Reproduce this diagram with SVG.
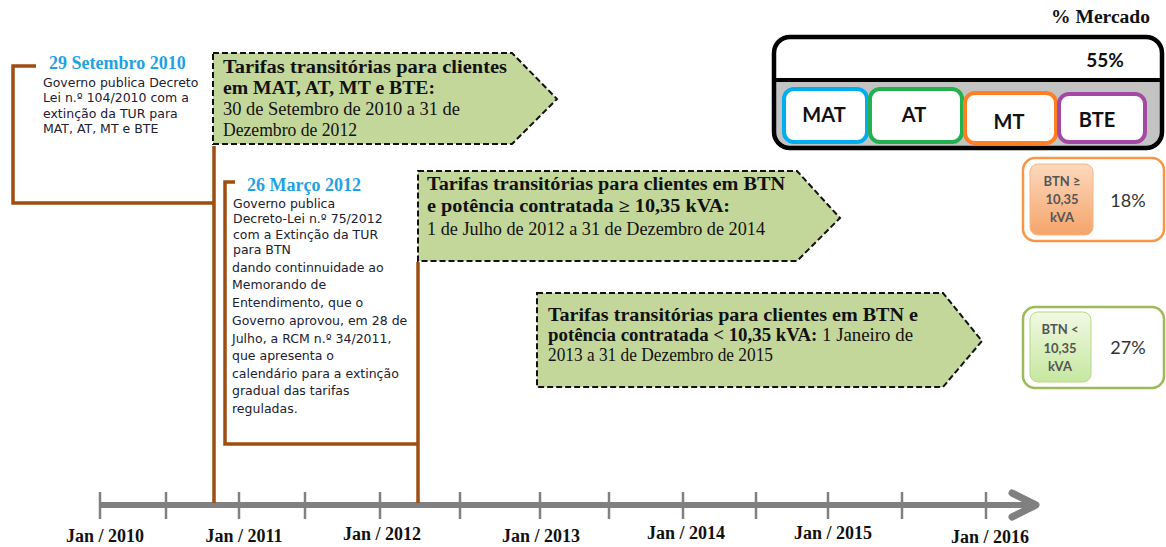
<svg xmlns="http://www.w3.org/2000/svg" width="1166" height="547" viewBox="0 0 1166 547">
<defs>
<linearGradient id="gOr" x1="0" y1="0" x2="0" y2="1"><stop offset="0" stop-color="#FCD9BD"/><stop offset="1" stop-color="#F5A46A"/></linearGradient>
<linearGradient id="gGr" x1="0" y1="0" x2="0" y2="1"><stop offset="0" stop-color="#F1F9E3"/><stop offset="1" stop-color="#C6E79F"/></linearGradient>
<style>
.brown{fill:none;stroke:#9E4E12;stroke-width:3.5}
.date{font-family:"Liberation Serif","Times New Roman",serif;font-weight:bold;font-size:18px;fill:#1FA2E2}
.body{font-family:"DejaVu Sans",Verdana,sans-serif;font-size:12.5px;fill:#202030}
.arrowbox{fill:#C4D79B;stroke:#111;stroke-width:2;stroke-dasharray:6,3}
.tb{font-family:"Liberation Serif","Times New Roman",serif;font-weight:bold;font-size:18px;fill:#111}
.tr{font-family:"Liberation Serif","Times New Roman",serif;font-size:18px;fill:#111}
.trs{font-weight:normal}
.axis{stroke:#808080;fill:none}
.jan{font-family:"Liberation Serif","Times New Roman",serif;font-weight:bold;font-size:18px;fill:#111;text-anchor:middle}
.cal{font-family:Lato,"Liberation Sans",sans-serif;font-weight:bold;fill:#111;text-anchor:middle}
.inner{fill:#fff;stroke-width:4}
.small{font-family:Lato,"Liberation Sans",sans-serif;font-weight:bold;font-size:13px;fill:#555;text-anchor:middle}
.pct{font-family:Lato,"Liberation Sans",sans-serif;font-size:18px;fill:#333;text-anchor:middle}
</style>
</defs>
<rect width="1166" height="547" fill="#fff"/>

<g id="timeline-axis">
<line class="axis" x1="100" y1="505" x2="1033" y2="505" stroke-width="6"/>
<g class="axis" stroke-width="2.5">
<line x1="100" y1="492" x2="100" y2="519"/>
<line x1="166" y1="492" x2="166" y2="519"/>
<line x1="239" y1="492" x2="239" y2="519"/>
<line x1="305" y1="492" x2="305" y2="519"/>
<line x1="380" y1="492" x2="380" y2="519"/>
<line x1="460" y1="492" x2="460" y2="519"/>
<line x1="540" y1="492" x2="540" y2="519"/>
<line x1="609" y1="492" x2="609" y2="519"/>
<line x1="683" y1="492" x2="683" y2="519"/>
<line x1="756" y1="492" x2="756" y2="519"/>
<line x1="828" y1="492" x2="828" y2="519"/>
<line x1="902" y1="492" x2="902" y2="519"/>
<line x1="986" y1="492" x2="986" y2="519"/>
</g>
<polyline class="axis" points="1012,493 1036,505 1012,517" stroke-width="7" stroke-linecap="round" stroke-linejoin="round"/>
<text class="jan" x="105" y="542">Jan / 2010</text>
<text class="jan" x="244" y="542">Jan / 2011</text>
<text class="jan" x="382" y="540">Jan / 2012</text>
<text class="jan" x="541" y="542">Jan / 2013</text>
<text class="jan" x="686" y="539">Jan / 2014</text>
<text class="jan" x="833" y="539">Jan / 2015</text>
<text class="jan" x="990" y="543">Jan / 2016</text>
</g>

<g id="connectors">
<path class="brown" d="M36,66 H13 V203 H214"/>
<line class="brown" x1="214" y1="146" x2="214" y2="503"/>
<path class="brown" d="M235,182 H225 V444 H418"/>
<line class="brown" x1="418" y1="262" x2="418" y2="503"/>
</g>

<g id="event-2010">
<text class="date" x="49" y="69">29 Setembro 2010</text>
<text class="body" x="43" y="87">Governo publica Decreto</text>
<text class="body" x="43" y="102">Lei n.º 104/2010 com a</text>
<text class="body" x="43" y="117.5">extinção da TUR para</text>
<text class="body" x="43" y="133">MAT, AT, MT e BTE</text>
</g>

<g id="event-2012">
<text class="date" x="247" y="191">26 Março 2012</text>
<text class="body" x="233" y="208">Governo publica</text>
<text class="body" x="233" y="223">Decreto-Lei n.º 75/2012</text>
<text class="body" x="233" y="239">com a Extinção da TUR</text>
<text class="body" x="233" y="254">para BTN</text>
<text class="body" x="232" y="272">dando continnuidade ao</text>
<text class="body" x="232" y="289">Memorando de</text>
<text class="body" x="232" y="307">Entendimento, que o</text>
<text class="body" x="232" y="325">Governo aprovou, em 28 de</text>
<text class="body" x="232" y="343">Julho, a RCM n.º 34/2011,</text>
<text class="body" x="232" y="360">que apresenta o</text>
<text class="body" x="232" y="378">calendário para a extinção</text>
<text class="body" x="232" y="395">gradual das tarifas</text>
<text class="body" x="232" y="413">reguladas.</text>
</g>

<g id="period-mat-at-mt-bte">
<polygon class="arrowbox" points="213,53 512,53 557,99 512,144 213,144"/>
<text class="tb" x="223" y="73" textLength="284" lengthAdjust="spacingAndGlyphs">Tarifas transitórias para clientes</text>
<text class="tb" x="223" y="94" textLength="212" lengthAdjust="spacingAndGlyphs">em MAT, AT, MT e BTE:</text>
<text class="tr" x="223" y="115" textLength="237" lengthAdjust="spacingAndGlyphs">30 de Setembro de 2010 a 31 de</text>
<text class="tr" x="223" y="136" textLength="134" lengthAdjust="spacingAndGlyphs">Dezembro de 2012</text>
</g>

<g id="period-btn-high">
<polygon class="arrowbox" points="418,171 797,171 840,218 797,261 418,261"/>
<text class="tb" x="427" y="190" textLength="358" lengthAdjust="spacingAndGlyphs">Tarifas transitórias para clientes em BTN</text>
<text class="tb" x="427" y="212" textLength="303" lengthAdjust="spacingAndGlyphs">e potência contratada ≥ 10,35 kVA:</text>
<text class="tr" x="427" y="235" textLength="338" lengthAdjust="spacingAndGlyphs">1 de Julho de 2012 a 31 de Dezembro de 2014</text>
</g>

<g id="period-btn-low">
<polygon class="arrowbox" points="537,293 943,293 982,341 943,387 537,387"/>
<text class="tb" x="548" y="321" textLength="370" lengthAdjust="spacingAndGlyphs">Tarifas  transitórias para clientes em BTN e</text>
<text class="tb" x="548" y="341" textLength="365" lengthAdjust="spacingAndGlyphs">potência contratada &lt; 10,35 kVA:<tspan class="trs"> 1 Janeiro de</tspan></text>
<text class="tr" x="548" y="361" textLength="225" lengthAdjust="spacingAndGlyphs">2013 a 31 de Dezembro de 2015</text>
</g>

<g id="market-title">
<text class="tb" x="1051" y="23" font-size="16.5" textLength="99" lengthAdjust="spacingAndGlyphs">% Mercado</text>
</g>

<g id="market-55">
<rect x="774" y="37" width="388" height="111" rx="16" fill="#C3C3C3"/>
<path d="M774,80 V53 Q774,37 790,37 H1146 Q1162,37 1162,53 V80 Z" fill="#fff"/>
<line x1="774" y1="80" x2="1162" y2="80" stroke="#000" stroke-width="4"/>
<rect x="774" y="37" width="388" height="111" rx="16" fill="none" stroke="#000" stroke-width="4.5"/>
<text class="cal" x="1105" y="67" font-size="19">55%</text>
<g id="seg-mat"><rect class="inner" x="784" y="89" width="83" height="53" rx="10" stroke="#00AEEF"/><text class="cal" x="824" y="122" font-size="20">MAT</text></g>
<g id="seg-at"><rect class="inner" x="870" y="89" width="92" height="53" rx="10" stroke="#22B14C"/><text class="cal" x="914" y="122" font-size="20">AT</text></g>
<g id="seg-mt"><rect class="inner" x="965" y="93" width="91" height="50" rx="10" stroke="#FF7F27"/><text class="cal" x="1009" y="129" font-size="20">MT</text></g>
<g id="seg-bte"><rect class="inner" x="1059" y="94" width="86" height="48" rx="10" stroke="#A349A4"/><text class="cal" x="1097" y="127" font-size="20">BTE</text></g>
</g>

<g id="market-18">
<rect x="1023" y="158" width="141" height="83" rx="12" fill="#fff" stroke="#F79646" stroke-width="2.5"/>
<rect x="1030" y="164" width="63" height="71" rx="8" fill="url(#gOr)" stroke="#F5B585" stroke-width="1"/>
<text class="small" x="1062" y="186">BTN ≥</text>
<text class="small" x="1062" y="204">10,35</text>
<text class="small" x="1062" y="222">kVA</text>
<text class="pct" x="1128" y="207">18%</text>
</g>

<g id="market-27">
<rect x="1023" y="307" width="141" height="81" rx="12" fill="#fff" stroke="#9BBB59" stroke-width="2.5"/>
<rect x="1030" y="312" width="61" height="70" rx="8" fill="url(#gGr)" stroke="#B5D98A" stroke-width="1"/>
<text class="small" x="1060" y="334">BTN &lt;</text>
<text class="small" x="1060" y="353">10,35</text>
<text class="small" x="1060" y="371">kVA</text>
<text class="pct" x="1128" y="354">27%</text>
</g>
</svg>
